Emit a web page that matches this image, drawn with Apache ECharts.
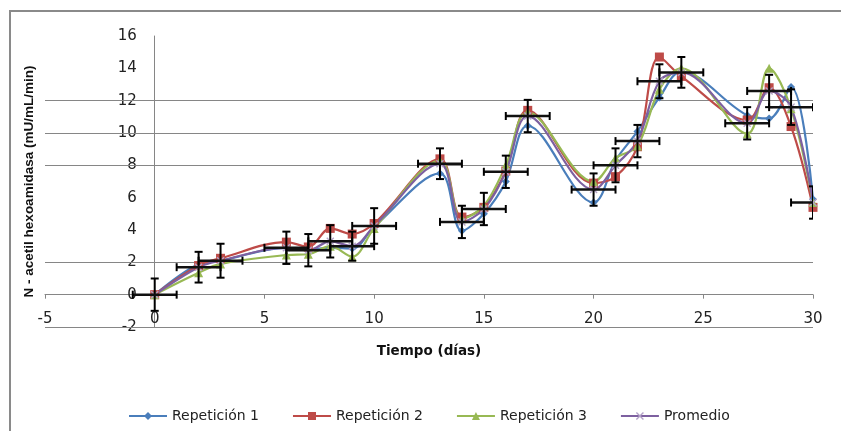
<!DOCTYPE html>
<html>
<head>
<meta charset="utf-8">
<script src="https://cdn.jsdelivr.net/npm/echarts@6/dist/echarts.min.js"></script>
<style>
html,body{margin:0;padding:0;background:#fff;}
#c{width:841px;height:431px;}
</style>
</head>
<body>
<div id="c"></div>
<script>
// ---- data ----
const days = [0, 2, 3, 6, 7, 8, 9, 10, 13, 14, 15, 16, 17, 20, 21, 22, 23, 24, 27, 28, 29, 30];
const rep1 = [0, 1.9, 2.1, 2.9, 2.8, 2.9, 2.85, 4.2, 7.5, 3.95, 5.0, 7.0, 10.45, 5.7, 8.3, 10.1, 12.2, 13.8, 11.1, 10.9, 12.85, 5.9];
const rep2 = [0, 1.8, 2.25, 3.25, 2.95, 4.1, 3.75, 4.4, 8.4, 4.8, 5.4, 7.65, 11.4, 6.9, 7.3, 9.15, 14.7, 13.5, 10.8, 12.8, 10.4, 5.4];
const rep3 = [0, 1.35, 1.9, 2.45, 2.5, 3.0, 2.35, 4.1, 8.3, 4.7, 5.5, 8.0, 11.3, 7.0, 8.45, 9.2, 12.7, 14.0, 9.95, 14.0, 11.5, 5.7];
const promedio = [0, 1.7, 2.1, 2.9, 2.75, 3.3, 3.0, 4.25, 8.1, 4.5, 5.3, 7.6, 11.05, 6.5, 8.0, 9.5, 13.2, 13.75, 10.6, 12.6, 11.6, 5.7];
const yErr = [1.0, 0.95, 1.05, 1.0, 1.0, 1.0, 0.9, 1.1, 0.95, 1.0, 1.0, 1.0, 1.0, 1.0, 1.05, 1.0, 1.05, 0.95, 1.0, 1.0, 1.1, 1.0];
const xErr = [1, 1, 1, 1, 1, 1, 1, 1, 1, 1, 1, 1, 1, 1, 1, 1, 1, 1, 1, 1, 1, 1];
const gridValues = [-2, 2, 8, 10, 12];
const seriesNames = ['Repetición 1', 'Repetición 2', 'Repetición 3', 'Promedio'];
const xTitle = 'Tiempo (días)';
const yTitle = 'N - acetil hexoamidasa (mU/mL/min)';

// ---- chart ----
const pairs = arr => days.map((d, i) => [d, arr[i]]);
const FONT = 'DejaVu Sans';
const grid = '#868686';
const G = {left: 45, right: 28, top: 36, bottom: 104, W: 841, H: 431};
const X_MIN = -5, X_MAX = 30, Y_MIN = -2, Y_MAX = 16;
// offsets so the axes cross at 0 (Excel style), labels travel with them
const plotW = G.W - G.left - G.right, plotH = G.H - G.top - G.bottom;
const yAxisOffset = -plotW * (0 - X_MIN) / (X_MAX - X_MIN);
const xAxisOffset = -plotH * (0 - Y_MIN) / (Y_MAX - Y_MIN);

const chart = echarts.init(document.getElementById('c'), null, {renderer: 'canvas'});
const xMark = 'path://M0,1.2L1.2,0L5,3.8L8.8,0L10,1.2L6.2,5L10,8.8L8.8,10L5,6.2L1.2,10L0,8.8L3.8,5Z';

function lineSeries(name, arr, color, symbol, size, symColor) {
  return {
    name: name, type: 'line', data: pairs(arr), smooth: 0.35,
    symbol: symbol, symbolSize: size,
    lineStyle: {color: color, width: 2.2},
    itemStyle: {color: symColor || color},
    z: 3
  };
}

const s1 = lineSeries(seriesNames[0], rep1, '#4A7EBB', 'diamond', 8);
s1.markLine = {
  silent: true, symbol: 'none', animation: false, z: 1,
  label: {show: false},
  lineStyle: {color: grid, width: 1, type: 'solid'},
  emphasis: {disabled: true},
  data: gridValues.map(v => ({yAxis: v}))
};

chart.setOption({
  animation: false,
  backgroundColor: '#fff',
  grid: {left: G.left, right: G.right, top: G.top, bottom: G.bottom, containLabel: false, outerBoundsMode: 'none'},
  graphic: [{
    type: 'rect', shape: {x: 10, y: 11, width: 900, height: 500},
    style: {fill: 'none', stroke: '#8a8a8a', lineWidth: 2}, silent: true, z: -1
  }],
  legend: {
    left: 123, top: 404, itemWidth: 38, itemHeight: 10, itemGap: 33,
    textStyle: {fontFamily: FONT, fontSize: 14, color: '#222'},
    data: seriesNames
  },
  xAxis: {
    type: 'value', min: X_MIN, max: X_MAX, interval: 5,
    position: 'bottom', offset: xAxisOffset,
    name: xTitle, nameLocation: 'middle', nameGap: 50,
    nameTextStyle: {fontFamily: FONT, fontWeight: 'bold', fontSize: 13.5, color: '#111'},
    axisLine: {onZero: false, lineStyle: {color: grid, width: 1}},
    axisTick: {show: true, inside: false, length: 4, lineStyle: {color: grid}},
    axisLabel: {margin: 17, fontFamily: FONT, fontSize: 15, color: '#222'},
    splitLine: {show: false}
  },
  yAxis: {
    type: 'value', min: Y_MIN, max: Y_MAX, interval: 2,
    position: 'left', offset: yAxisOffset,
    name: yTitle, nameLocation: 'middle', nameGap: 118, nameRotate: 90,
    nameTextStyle: {fontFamily: 'Liberation Sans', fontWeight: 'bold', fontSize: 13.5, color: '#111'},
    axisLine: {show: true, onZero: false, lineStyle: {color: grid, width: 1}},
    axisTick: {show: false},
    axisLabel: {margin: 18, fontFamily: FONT, fontSize: 15, color: '#222'},
    splitLine: {show: false}
  },
  series: [
    s1,
    lineSeries(seriesNames[1], rep2, '#BE4B48', 'rect', 9),
    lineSeries(seriesNames[2], rep3, '#98B954', 'triangle', 9),
    lineSeries(seriesNames[3], promedio, '#7D60A0', xMark, 8, '#B3A2C7'),
    {
      type: 'custom', silent: true, clip: true, z: 4,
      encode: {x: 0, y: 1},
      data: days.map((d, i) => [d, promedio[i], yErr[i], xErr[i]]),
      renderItem: function (params, api) {
        const x = api.value(0), y = api.value(1), ey = api.value(2), ex = api.value(3);
        const top = api.coord([x, y + ey]), bot = api.coord([x, y - ey]);
        const l = api.coord([x - ex, y]), r = api.coord([x + ex, y]);
        const cap = 4;
        const st = {stroke: '#000', lineWidth: 2};
        const hs = {stroke: '#111', lineWidth: 2.5};
        return {type: 'group', children: [
          {type: 'line', shape: {x1: top[0], y1: top[1], x2: bot[0], y2: bot[1]}, style: st},
          {type: 'line', shape: {x1: top[0] - cap, y1: top[1], x2: top[0] + cap, y2: top[1]}, style: st},
          {type: 'line', shape: {x1: bot[0] - cap, y1: bot[1], x2: bot[0] + cap, y2: bot[1]}, style: st},
          {type: 'line', shape: {x1: l[0], y1: l[1], x2: r[0], y2: r[1]}, style: hs},
          {type: 'line', shape: {x1: l[0], y1: l[1] - cap, x2: l[0], y2: l[1] + cap}, style: st},
          {type: 'line', shape: {x1: r[0], y1: r[1] - cap, x2: r[0], y2: r[1] + cap}, style: st}
        ]};
      }
    }
  ]
});
</script>
</body>
</html>
